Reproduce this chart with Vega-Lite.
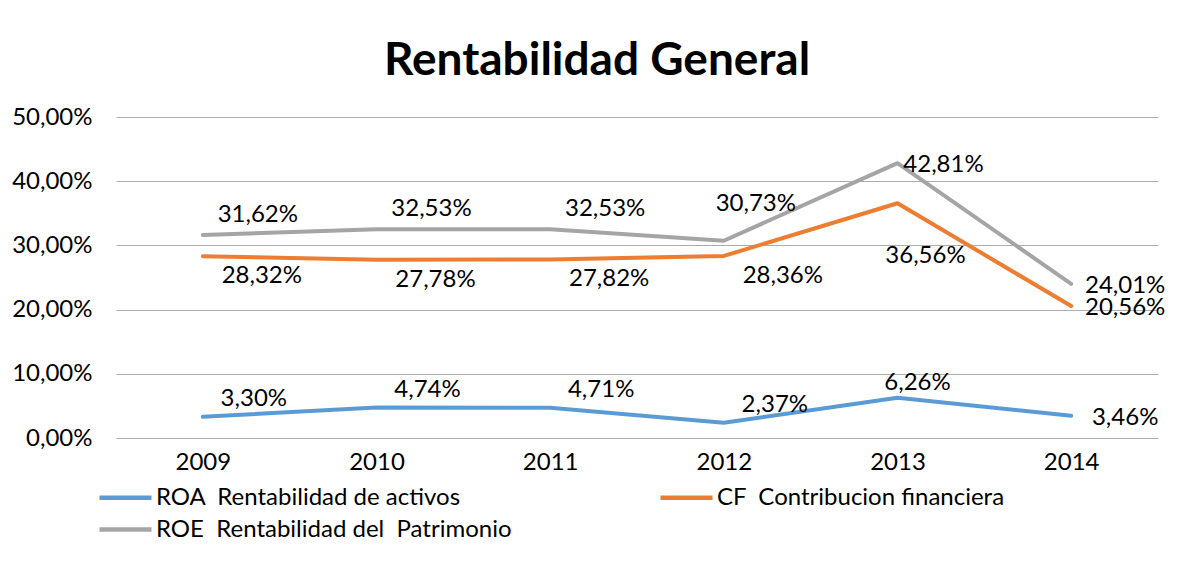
{
  "$schema": "https://vega.github.io/schema/vega-lite/v6.json",
  "autosize": "none",
  "width": 1042,
  "height": 321,
  "padding": {"left": 116, "top": 117, "right": 19, "bottom": 123},
  "background": "white",
  "title": {"text": "Rentabilidad General", "font": "Lato", "fontSize": 46, "fontWeight": "bold", "color": "#000000", "anchor": "middle", "frame": "group", "dx": -40, "offset": 20},
  "data": {"values": [
    {"year": "2009", "code": "ROA", "serie": "ROA\u00a0 Rentabilidad de activos", "value": 0.0330},
    {"year": "2010", "code": "ROA", "serie": "ROA\u00a0 Rentabilidad de activos", "value": 0.0474},
    {"year": "2011", "code": "ROA", "serie": "ROA\u00a0 Rentabilidad de activos", "value": 0.0471},
    {"year": "2012", "code": "ROA", "serie": "ROA\u00a0 Rentabilidad de activos", "value": 0.0237},
    {"year": "2013", "code": "ROA", "serie": "ROA\u00a0 Rentabilidad de activos", "value": 0.0626},
    {"year": "2014", "code": "ROA", "serie": "ROA\u00a0 Rentabilidad de activos", "value": 0.0346},
    {"year": "2009", "code": "CF", "serie": "CF\u00a0 Contribucion financiera", "value": 0.2832},
    {"year": "2010", "code": "CF", "serie": "CF\u00a0 Contribucion financiera", "value": 0.2778},
    {"year": "2011", "code": "CF", "serie": "CF\u00a0 Contribucion financiera", "value": 0.2782},
    {"year": "2012", "code": "CF", "serie": "CF\u00a0 Contribucion financiera", "value": 0.2836},
    {"year": "2013", "code": "CF", "serie": "CF\u00a0 Contribucion financiera", "value": 0.3656},
    {"year": "2014", "code": "CF", "serie": "CF\u00a0 Contribucion financiera", "value": 0.2056},
    {"year": "2009", "code": "ROE", "serie": "ROE\u00a0 Rentabilidad del\u00a0 Patrimonio", "value": 0.3162},
    {"year": "2010", "code": "ROE", "serie": "ROE\u00a0 Rentabilidad del\u00a0 Patrimonio", "value": 0.3253},
    {"year": "2011", "code": "ROE", "serie": "ROE\u00a0 Rentabilidad del\u00a0 Patrimonio", "value": 0.3253},
    {"year": "2012", "code": "ROE", "serie": "ROE\u00a0 Rentabilidad del\u00a0 Patrimonio", "value": 0.3073},
    {"year": "2013", "code": "ROE", "serie": "ROE\u00a0 Rentabilidad del\u00a0 Patrimonio", "value": 0.4281},
    {"year": "2014", "code": "ROE", "serie": "ROE\u00a0 Rentabilidad del\u00a0 Patrimonio", "value": 0.2401}
  ]},
  "encoding": {
    "x": {"field": "year", "type": "ordinal", "scale": {"type": "point", "padding": 0.5}, "axis": {"title": null, "labelAngle": 0, "domain": false, "ticks": false, "grid": false, "labelPadding": 12, "labelFontSize": 24, "labelColor": "#000000", "labelFont": "Lato"}},
    "y": {"field": "value", "type": "quantitative", "scale": {"domain": [0, 0.5], "nice": false}, "axis": {"title": null, "values": [0, 0.1, 0.2, 0.3, 0.4, 0.5], "format": ".2%", "domain": false, "ticks": false, "grid": true, "gridColor": "#ADADAD", "gridWidth": 1.2, "labelPadding": 24, "labelFontSize": 24, "labelColor": "#000000", "labelFont": "Lato"}}
  },
  "layer": [
    {
      "mark": {"type": "line", "strokeWidth": 4, "strokeCap": "round", "strokeJoin": "round"},
      "encoding": {
        "color": {"field": "serie", "type": "nominal",
          "scale": {"domain": ["ROA\u00a0 Rentabilidad de activos", "ROE\u00a0 Rentabilidad del\u00a0 Patrimonio", "CF\u00a0 Contribucion financiera"], "range": ["#5B9BD5", "#A5A5A5", "#ED7D31"]},
          "legend": {"title": null, "orient": "none", "legendX": -6, "legendY": 365, "padding": 0, "columns": 2, "columnPadding": 139, "rowPadding": 4, "symbolType": "M-2,0H2", "symbolStrokeWidth": 4.5, "symbolSize": 676, "symbolFillColor": "transparent", "labelFontSize": 24, "labelFont": "Lato", "labelColor": "#000000", "labelLimit": 600, "labelOffset": 15}}
      }
    },
    {
      "transform": [{"filter": "datum.code === 'ROA' && datum.year <= '2012'"}],
      "mark": {"type": "text", "dx": 51, "dy": -18, "fontSize": 24, "font": "Lato", "color": "#000000"},
      "encoding": {"text": {"field": "value", "format": ".2%"}}
    },
    {
      "transform": [{"filter": "datum.code === 'CF' && datum.year <= '2012'"}],
      "mark": {"type": "text", "dx": 59, "dy": 20, "fontSize": 24, "font": "Lato", "color": "#000000"},
      "encoding": {"text": {"field": "value", "format": ".2%"}}
    },
    {
      "transform": [{"filter": "datum.code === 'ROE' && datum.year <= '2011'"}],
      "mark": {"type": "text", "dx": 55, "dy": -20, "fontSize": 24, "font": "Lato", "color": "#000000"},
      "encoding": {"text": {"field": "value", "format": ".2%"}}
    },
    {
      "transform": [{"filter": "datum.code === 'ROE' && datum.year === '2012'"}],
      "mark": {"type": "text", "dx": 32, "dy": -37, "fontSize": 24, "font": "Lato", "color": "#000000"},
      "encoding": {"text": {"field": "value", "format": ".2%"}}
    },
    {
      "transform": [{"filter": "datum.code === 'ROA' && datum.year === '2013'"}],
      "mark": {"type": "text", "dx": 20, "dy": -15, "fontSize": 24, "font": "Lato", "color": "#000000"},
      "encoding": {"text": {"field": "value", "format": ".2%"}}
    },
    {
      "transform": [{"filter": "datum.code === 'CF' && datum.year === '2013'"}],
      "mark": {"type": "text", "dx": 28, "dy": 53, "fontSize": 24, "font": "Lato", "color": "#000000"},
      "encoding": {"text": {"field": "value", "format": ".2%"}}
    },
    {
      "transform": [{"filter": "datum.code === 'ROE' && datum.year === '2013'"}],
      "mark": {"type": "text", "dx": 46, "dy": 2, "fontSize": 24, "font": "Lato", "color": "#000000"},
      "encoding": {"text": {"field": "value", "format": ".2%"}}
    },
    {
      "transform": [{"filter": "datum.year === '2014'"}],
      "mark": {"type": "text", "dx": 54, "dy": 2, "fontSize": 24, "font": "Lato", "color": "#000000"},
      "encoding": {"text": {"field": "value", "format": ".2%"}}
    }
  ],
  "config": {
    "locale": {"number": {"decimal": ",", "thousands": ".", "grouping": [3], "currency": ["", " €"]}},
    "view": {"stroke": null}
  }
}
